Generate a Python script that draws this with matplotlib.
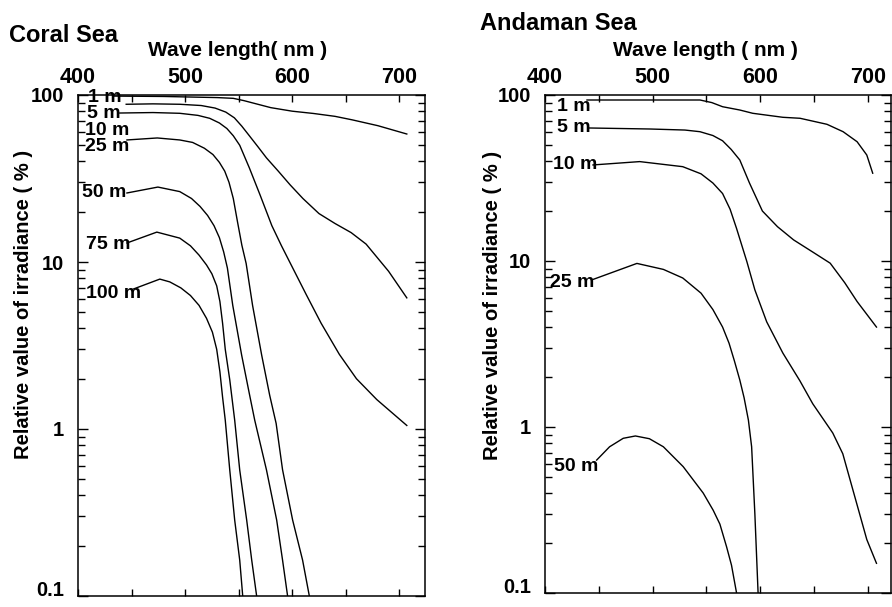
import matplotlib
matplotlib.use("Agg")
import matplotlib.pyplot as plt
from matplotlib.ticker import FixedLocator, FixedFormatter, LogLocator, NullFormatter

plt.rcParams['font.family'] = ['Liberation Sans', 'DejaVu Sans']
plt.rcParams['font.weight'] = 'bold'

# ---------------- data ----------------
x_tick_values = [400, 500, 600, 700]
x_tick_labels = ['400', '500', '600', '700']
x_minor_values = [450, 550, 650]
y_tick_values = [0.1, 1, 10, 100]
y_tick_labels = ['0.1', '1', '10', '100']

# Coral Sea
coral_depths = ['1 m', '5 m', '10 m', '25 m', '50 m', '75 m', '100 m']
coral_1m_x = [434, 480, 530, 545, 555, 565, 580, 600, 620, 640, 656, 680, 707]
coral_1m_y = [98.5, 98, 96.5, 95.5, 92.5, 89, 84, 80, 77.5, 74.5, 71, 65.5, 58.4]
coral_5m_x = [445, 470, 495, 515, 528, 538, 546, 553, 560, 568, 576, 587, 598, 610, 625, 640, 655, 669, 690, 707]
coral_5m_y = [88, 88.5, 88, 86.5, 83.5, 79, 73, 65, 57, 49, 42, 35, 29, 24, 19.5, 17, 15, 12.8, 8.8, 6.1]
coral_10m_x = [439, 470, 495, 512, 523, 532, 539, 545, 551, 560, 570, 581, 590, 598, 613, 627, 644, 660, 679, 707]
coral_10m_y = [78, 78.5, 77.7, 75.5, 72.5, 68, 63, 57, 50, 36.6, 25.2, 16.5, 12.5, 9.9, 6.4, 4.3, 2.8, 2.0, 1.5, 1.05]
coral_25m_x = [445.7, 474, 495, 507, 518, 526, 532, 537, 541, 545, 549, 553, 557, 563, 571.5, 579, 585, 591, 600.4, 609.7, 616]
coral_25m_y = [53.8, 55.3, 53.8, 52, 48, 44, 39.5, 35, 30, 24, 17.3, 12.6, 9.8, 5.5, 2.77, 1.59, 1.08, 0.57, 0.285, 0.164, 0.1]
coral_50m_x = [445.7, 474.6, 495, 506, 514, 521, 527, 532, 536, 539.5, 544.5, 552.8, 560.3, 565, 576, 585.5, 591, 595.7]
coral_50m_y = [25.9, 28.1, 26.4, 24, 21.5, 19, 16.5, 14, 11.5, 9.2, 5.5, 2.77, 1.59, 1.13, 0.568, 0.285, 0.164, 0.1]
coral_75m_x = [445.7, 473.6, 495, 505, 513, 520, 525, 529.5, 532.5, 535, 537.5, 541.7, 546.3, 551, 557.5, 562.2, 566.8]
coral_75m_y = [13.0, 15.1, 13.9, 12.5, 11, 9.6, 8.5, 7.2, 5.8, 4.3, 3.0, 1.97, 1.13, 0.568, 0.285, 0.164, 0.1]
coral_100m_x = [452, 476.4, 485.7, 496, 505, 513, 520, 525.5, 529.5, 532.5, 535, 537.5, 541.7, 546.3, 551, 553.8]
coral_100m_y = [6.9, 7.9, 7.6, 7.0, 6.3, 5.5, 4.6, 3.8, 3.0, 2.2, 1.55, 1.13, 0.568, 0.285, 0.164, 0.1]
coral_label_x = [409.3, 408.4, 406.5, 406.5, 403.7, 407.4, 407.4]
coral_label_y = [97, 78, 61.7, 49.5, 25.9, 12.7, 6.5]

# Andaman Sea
andaman_depths = ['1 m', '5 m', '10 m', '25 m', '50 m']
andaman_1m_x = [439, 490, 544, 555, 565, 581, 593, 621, 637, 662, 677, 690, 699, 704.5]
andaman_1m_y = [93.3, 93.3, 93.3, 90, 85, 81.2, 77.6, 73.4, 72.4, 66.6, 60.1, 52.3, 43.5, 33.8]
andaman_5m_x = [440, 497.5, 530, 544, 556, 565, 573, 581, 590, 602, 616, 631, 649, 665, 678.5, 690, 708]
andaman_5m_y = [63.3, 62.4, 61.5, 60.1, 57, 53, 47, 40.6, 29.5, 20, 16.1, 13.4, 11.3, 9.7, 7.4, 5.7, 4.0]
andaman_10m_x = [444.6, 488, 528, 545, 556, 565, 572, 578, 587.6, 595, 606, 621, 636.8, 648.8, 667.4, 676.7, 686, 699, 708]
andaman_10m_y = [37.9, 39.7, 37, 33.5, 29.5, 25.5, 20.5, 15.7, 9.9, 6.7, 4.3, 2.79, 1.9, 1.38, 0.92, 0.69, 0.42, 0.21, 0.151]
andaman_25m_x = [443.6, 485.4, 510, 528, 545, 556, 565, 571, 576, 581, 585, 589, 592, 595, 598]
andaman_25m_y = [7.7, 9.67, 8.9, 7.9, 6.4, 5.1, 4.0, 3.2, 2.5, 1.92, 1.5, 1.1, 0.76, 0.3, 0.1]
andaman_50m_x = [448, 460, 472.7, 484, 497, 510, 528.4, 547, 556.3, 562.5, 568.7, 573.3, 578]
andaman_50m_y = [0.632, 0.76, 0.855, 0.883, 0.85, 0.76, 0.577, 0.40, 0.315, 0.26, 0.19, 0.147, 0.1]
andaman_label_x = [411.1, 411.1, 407.4, 404.6, 408.4]
andaman_label_y = [85.8, 63.3, 37.9, 7.4, 0.58]

# ---------------- figure ----------------
W, H = 892, 607
fig = plt.figure(figsize=(W / 100, H / 100), dpi=100)
ax1 = fig.add_axes([78 / W, (H - 596) / H, 347 / W, 501 / H])
ax2 = fig.add_axes([545 / W, (H - 593) / H, 346 / W, 498 / H])


def style(ax, xmax):
    ax.set_yscale('log')
    ax.set_xlim(400, xmax)
    ax.set_ylim(0.1, 100)
    ax.xaxis.set_major_locator(FixedLocator(x_tick_values))
    ax.xaxis.set_major_formatter(FixedFormatter(x_tick_labels))
    ax.xaxis.set_minor_locator(FixedLocator(x_minor_values))
    ax.tick_params(axis='x', which='both', direction='in', top=True, bottom=True,
                   labeltop=True, labelbottom=False, length=5, width=1.0, pad=5,
                   labelsize=15.5)
    ax.yaxis.set_major_locator(FixedLocator(y_tick_values))
    ax.yaxis.set_major_formatter(FixedFormatter(y_tick_labels))
    ax.yaxis.set_minor_locator(LogLocator(base=10, subs=range(2, 10)))
    ax.yaxis.set_minor_formatter(NullFormatter())
    ax.tick_params(axis='y', which='major', direction='in', left=True, right=True,
                   length=7, width=1.0, pad=10, labelsize=14.5)
    ax.tick_params(axis='y', which='minor', direction='in', left=True, right=True,
                   length=5, width=1.0)
    for s in ax.spines.values():
        s.set_linewidth(1.1)


style(ax1, 724)
style(ax2, 721.5)

lw = 1.0
coral_series = [(coral_1m_x, coral_1m_y), (coral_5m_x, coral_5m_y), (coral_10m_x, coral_10m_y),
                (coral_25m_x, coral_25m_y), (coral_50m_x, coral_50m_y), (coral_75m_x, coral_75m_y),
                (coral_100m_x, coral_100m_y)]
for (xs, ys) in coral_series:
    ax1.plot(xs, ys, color='black', lw=lw, solid_joinstyle='round')
for lab, lx, ly in zip(coral_depths, coral_label_x, coral_label_y):
    ax1.text(lx, ly, lab, ha='left', va='center', fontsize=14, fontweight='bold')

andaman_series = [(andaman_1m_x, andaman_1m_y), (andaman_5m_x, andaman_5m_y),
                  (andaman_10m_x, andaman_10m_y), (andaman_25m_x, andaman_25m_y),
                  (andaman_50m_x, andaman_50m_y)]
for (xs, ys) in andaman_series:
    ax2.plot(xs, ys, color='black', lw=lw, solid_joinstyle='round')
for lab, lx, ly in zip(andaman_depths, andaman_label_x, andaman_label_y):
    ax2.text(lx, ly, lab, ha='left', va='center', fontsize=14, fontweight='bold')

# lift the lowest y tick label slightly so it stays inside the canvas
for ax in (ax1, ax2):
    fig.canvas.draw()
    for t in ax.get_yticklabels():
        if t.get_text() == '0.1':
            t.set_verticalalignment('baseline')

# titles and axis labels
fig.text(9 / W, 1 - 35 / H, 'Coral Sea', ha='left', va='center', fontsize=17, fontweight='bold')
fig.text(480 / W, 1 - 24 / H, 'Andaman Sea', ha='left', va='center', fontsize=17, fontweight='bold')
fig.text(238 / W, 1 - 50 / H, 'Wave length( nm )', ha='center', va='center', fontsize=15, fontweight='bold')
fig.text(705 / W, 1 - 50 / H, 'Wave length ( nm )', ha='center', va='center', fontsize=15, fontweight='bold')
fig.text(24 / W, 1 - 304 / H, 'Relative value of irradiance ( % )', rotation=90,
         ha='center', va='center', fontsize=14.5, fontweight='bold')
fig.text(492 / W, 1 - 305 / H, 'Relative value of irradiance ( % )', rotation=90,
         ha='center', va='center', fontsize=14.5, fontweight='bold')

fig.savefig('out.png', dpi=100)
